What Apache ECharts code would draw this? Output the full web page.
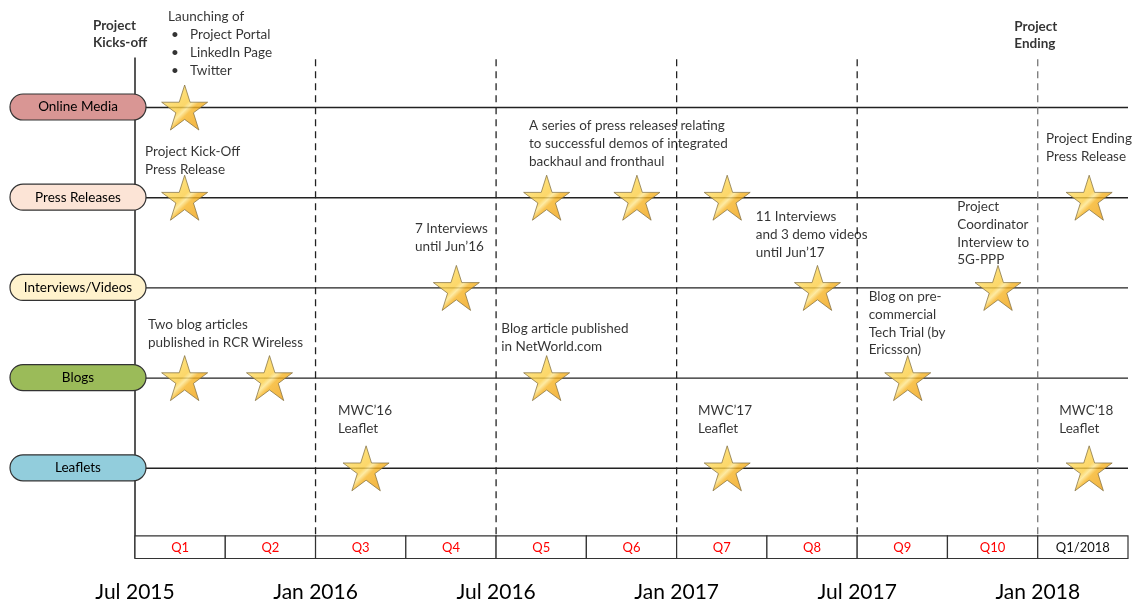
<!DOCTYPE html>
<html><head><meta charset="utf-8">
<script src="https://cdn.jsdelivr.net/npm/echarts@6/dist/echarts.min.js"></script>
<style>html,body{margin:0;padding:0;background:#fff}#c{width:1142px;height:603px}</style>
</head><body><div id="c"></div>
<script>
// ---------- data ----------
const rowNames = ['Online Media', 'Press Releases', 'Interviews/Videos', 'Blogs', 'Leaflets'];
const rowLevels = [5, 4, 3, 2, 1];
const quarterLabels = ['Q1','Q2','Q3','Q4','Q5','Q6','Q7','Q8','Q9','Q10','Q1/2018'];
const dateLabels = ['Jul 2015','Jan 2016','Jul 2016','Jan 2017','Jul 2017','Jan 2018'];
const kickoffQuarter = [0];
const halfYearMarks = [2, 4, 6, 8, 10];
// event stars, in quarters since Jul 2015
const onlineMediaEvents = [0.55];
const pressReleaseEvents = [0.55, 4.56, 5.56, 6.56, 10.57];
const interviewEvents = [3.56, 7.56, 9.56];
const blogEvents = [0.55, 1.49, 4.56, 8.56];
const leafletEvents = [2.56, 6.56, 10.57];
const eventsByRow = [onlineMediaEvents, pressReleaseEvents, interviewEvents, blogEvents, leafletEvents];
// annotation texts anchored at (quarter, row level)
const annotations = [
  { text: 'Project\nKicks-off', q: -0.465, level: 5.998, bold: true },
  { text: 'Launching of\n{b|•}Project Portal\n{b|•}LinkedIn Page\n{b|•}Twitter', q: 0.366, level: 6.101 },
  { text: 'Project Kick-Off\nPress Release', q: 0.111, level: 4.605 },
  { text: 'A series of press releases relating\nto successful demos of integrated\nbackhaul and fronthaul', q: 4.365, level: 4.893 },
  { text: '7 Interviews\nuntil Jun\u201916', q: 3.102, level: 3.751 },
  { text: '11 Interviews\nand 3 demo videos\nuntil Jun\u201917', q: 6.876, level: 3.884 },
  { text: 'Project Ending\nPress Release', q: 10.092, level: 4.749 },
  { text: 'Project\nCoordinator\nInterview to\n5G-PPP', q: 9.109, level: 3.995 },
  { text: 'Project\nEnding', q: 9.741, level: 5.987, bold: true },
  { text: 'Two blog articles\npublished in RCR Wireless', q: 0.144, level: 2.687 },
  { text: 'Blog article published\nin NetWorld.com', q: 4.058, level: 2.642 },
  { text: 'Blog on pre-\ncommercial\nTech Trial (by\nEricsson)', q: 8.128, level: 2.997 },
  { text: 'MWC\u201916\nLeaflet', q: 2.249, level: 1.739 },
  { text: 'MWC\u201917\nLeaflet', q: 6.237, level: 1.739 },
  { text: 'MWC\u201918\nLeaflet', q: 10.239, level: 1.739 }
];

// ---------- styles ----------
const rowColors = ['#d99694', '#fce4d6', '#fff2cc', '#9bbb59', '#92cddc'];
const FONT = 'Lato';
const TEXT = '#000';
const lineTop = 5.554, tableTop = 0.25, xEnd = 11;

function starPath() {
  const pts = [];
  for (let i = 0; i < 10; i++) {
    const r = i % 2 === 0 ? 100 : 38.2;
    const a = -Math.PI / 2 + i * Math.PI / 5;
    pts.push((r * Math.cos(a)).toFixed(2) + ' ' + (r * Math.sin(a)).toFixed(2));
  }
  return 'path://M' + pts.join(' L') + ' Z';
}
const STAR = starPath();
const starFill = new echarts.graphic.LinearGradient(0, 0, 1, 1, [
  { offset: 0, color: '#fff0b0' },
  { offset: 0.3, color: '#fdd655' },
  { offset: 0.47, color: '#fbcd45' },
  { offset: 0.53, color: '#fde58c' },
  { offset: 0.6, color: '#f6b424' },
  { offset: 1, color: '#ec9a10' }
]);

const series = [];
function seg(data, style, z) {
  series.push({ type: 'line', data, symbol: 'none', silent: true, z: z || 1,
    lineStyle: style, animation: false });
}
// row lines
rowLevels.forEach(l => seg([[0, l], [xEnd, l]], { color: '#222', width: 1.4 }, 1));
// kickoff solid line
kickoffQuarter.forEach(q => seg([[q, 0], [q, lineTop]], { color: '#111', width: 1.4 }, 1));
// dashed half-year lines
halfYearMarks.forEach((q, i) => seg([[q, tableTop + 0.02], [q, lineTop]],
  { color: i === halfYearMarks.length - 1 ? '#777' : '#222', width: 1.3, type: [7, 5] }, 1));

// table of quarters
series.push({
  type: 'custom', coordinateSystem: 'cartesian2d', clip: false, z: 3, silent: true, animation: false,
  data: quarterLabels.map((l, i) => [i, 0]),
  renderItem(params, api) {
    const i = params.dataIndex;
    const p0 = api.coord([i, tableTop]), p1 = api.coord([i + 1, 0]);
    return { type: 'group', children: [
      { type: 'rect', shape: { x: p0[0], y: p0[1], width: p1[0] - p0[0], height: p1[1] - p0[1] },
        style: { fill: '#fff', stroke: '#333', lineWidth: 1.2 } },
      { type: 'text', x: (p0[0] + p1[0]) / 2, y: (p0[1] + p1[1]) / 2 + 1,
        style: { text: quarterLabels[i], fill: i < 10 ? '#ff0000' : '#111', font: '13px ' + FONT,
          align: 'center', verticalAlign: 'middle' } }
    ] };
  }
});

// row pills
series.push({
  type: 'custom', coordinateSystem: 'cartesian2d', clip: false, z: 5, silent: true, animation: false,
  data: rowLevels.map(l => [0, l]),
  renderItem(params, api) {
    const i = params.dataIndex;
    const c = api.coord([api.value(0), api.value(1)]);
    return { type: 'group', children: [
      { type: 'rect', shape: { x: c[0] - 125, y: c[1] - 13.5, width: 136, height: 26, r: 13 },
        style: { fill: rowColors[i], stroke: '#333', lineWidth: 1.2 } },
      { type: 'text', x: c[0] - 57, y: c[1] - 0.5,
        style: { text: rowNames[i], fill: TEXT, font: '13.5px ' + FONT, align: 'center', verticalAlign: 'middle' } }
    ] };
  }
});

// stars
eventsByRow.forEach((evts, r) => {
  series.push({
    type: 'scatter', clip: false, z: 6, silent: true, animation: false,
    symbol: STAR, symbolSize: [46, 45],
    itemStyle: { color: starFill, borderColor: '#7d6b3e', borderWidth: 0.9 },
    data: evts.map(q => [q, rowLevels[r]])
  });
});

// annotations
series.push({
  type: 'scatter', clip: false, z: 7, silent: true, animation: false,
  symbolSize: 0.01, itemStyle: { color: 'rgba(0,0,0,0)' },
  data: annotations.map(a => ({
    value: [a.q, a.level],
    label: {
      show: true, position: [0, 0], align: 'left', verticalAlign: 'top',
      formatter: a.text, color: TEXT, fontFamily: FONT,
      fontSize: 13.5, fontWeight: a.bold ? 'bold' : 'normal',
      lineHeight: a.bold ? 17 : 17.7,
      rich: { b: { width: 19, padding: [0, 0, 0, 3], fontSize: 13.5, lineHeight: 17.7, fontFamily: FONT, color: TEXT } }
    }
  }))
});

const chart = echarts.init(document.getElementById('c'), null, { renderer: 'canvas' });
chart.setOption({
  animation: false,
  backgroundColor: '#fff',
  textStyle: { fontFamily: FONT },
  grid: { left: 135, right: 14, top: 8.3, bottom: 44.5, outerBoundsMode: 'none', containLabel: false },
  xAxis: {
    type: 'value', min: 0, max: xEnd, interval: 2,
    axisLine: { show: false }, axisTick: { show: false }, splitLine: { show: false },
    axisLabel: {
      margin: 23, fontSize: 21, color: TEXT, fontFamily: FONT,
      showMaxLabel: false,
      formatter: v => (v % 2 === 0 && dateLabels[v / 2]) ? dateLabels[v / 2] : ''
    }
  },
  yAxis: { type: 'value', min: 0, max: 6.1, show: false, splitLine: { show: false } },
  series
});
</script></body></html>
